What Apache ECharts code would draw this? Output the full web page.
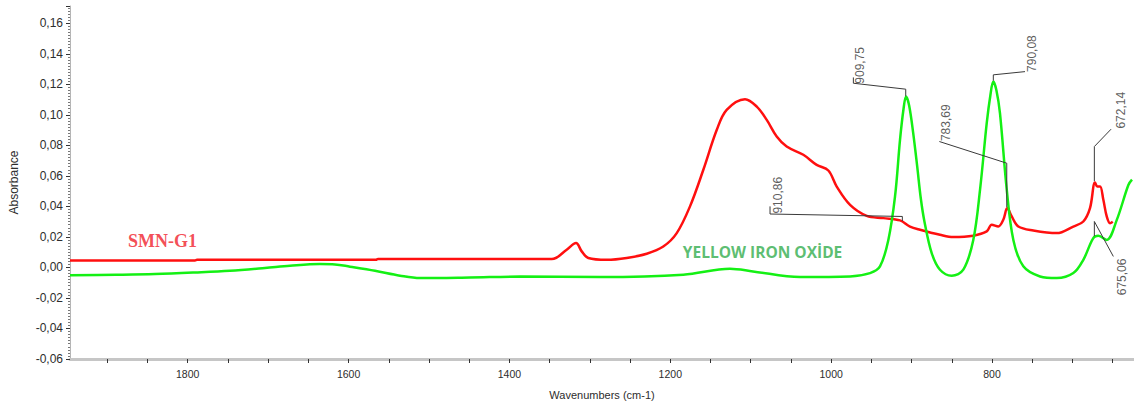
<!DOCTYPE html>
<html>
<head>
<meta charset="utf-8">
<script src="https://cdn.jsdelivr.net/npm/echarts@6/dist/echarts.min.js"></script>
<style>
html,body{margin:0;padding:0;background:#fff;}
#chart{width:1134px;height:405px;}
</style>
</head>
<body>
<div id="chart"></div>
<script>
// ---- data (wavenumber cm-1, absorbance) ----
const redWavenumbers = [1946.3, 1790.9, 1788.4, 1566.0, 1563.4, 1347.4, 1328.8, 1317.2, 1310.1, 1301.9, 1279.1, 1254.2, 1229.3, 1208.7, 1192.0, 1175.5, 1158.9, 1142.3, 1129.9, 1107.1, 1092.5, 1080.1, 1067.7, 1055.3, 1034.6, 1018.0, 1003.5, 993.1, 976.5, 955.8, 935.1, 914.4, 902.0, 889.5, 864.7, 848.1, 823.3, 806.6, 800.4, 792.2, 786.0, 781.0, 775.5, 767.3, 748.7, 719.6, 698.9, 686.5, 678.2, 672.0, 669.1, 665.7, 661.6, 657.4, 653.3, 649.9];
const redAbsorbance = [0.0046, 0.0046, 0.005, 0.005, 0.0055, 0.0055, 0.0116, 0.016, 0.0105, 0.0062, 0.005, 0.0062, 0.009, 0.0137, 0.0225, 0.040, 0.064, 0.090, 0.1032, 0.1102, 0.1054, 0.0967, 0.0858, 0.0792, 0.0738, 0.0672, 0.0635, 0.053, 0.041, 0.0338, 0.0323, 0.0308, 0.0268, 0.0247, 0.0214, 0.0199, 0.0208, 0.0236, 0.028, 0.0268, 0.0312, 0.0389, 0.0334, 0.0268, 0.0242, 0.0225, 0.0268, 0.0301, 0.0389, 0.0556, 0.053, 0.053, 0.0443, 0.0334, 0.029, 0.030];

const greenWavenumbers = [1946.3, 1889.1, 1840.6, 1790.9, 1747.4, 1703.9, 1672.8, 1635.5, 1616.9, 1598.2, 1567.1, 1536.0, 1511.2, 1449.0, 1386.8, 1287.4, 1183.8, 1125.8, 1097.2, 1038.7, 976.5, 951.7, 939.3, 928.9, 920.6, 914.4, 910.0, 906.9, 903.0, 898.0, 893.0, 888.5, 884.0, 875.0, 864.7, 850.1, 835.7, 823.3, 814.9, 806.6, 802.0, 798.4, 794.5, 790.1, 781.7, 773.5, 761.1, 740.3, 719.6, 698.9, 686.5, 674.1, 667.8, 657.4, 645.0, 630.5, 626.0];
const greenAbsorbance = [-0.0052, -0.0048, -0.0043, -0.0033, -0.0022, -0.0004, 0.0011, 0.0022, 0.0020, 0.0005, -0.0022, -0.0054, -0.007, -0.0066, -0.006, -0.0063, -0.0048, -0.0009, -0.0026, -0.0063, -0.0059, -0.0037, 0.0007, 0.018, 0.0465, 0.0836, 0.104, 0.112, 0.106, 0.088, 0.066, 0.045, 0.030, 0.0094, -0.0015, -0.0054, -0.0015, 0.018, 0.051, 0.0945, 0.113, 0.1218, 0.116, 0.101, 0.051, 0.018, 0.0007, -0.0059, -0.007, -0.0037, 0.005, 0.0192, 0.0207, 0.018, 0.031, 0.054, 0.0575];

// ---- axis ticks and labels ----
const xLabelValues = [800, 1000, 1200, 1400, 1600, 1800];
const xTickValues = [650, 700, 750, 800, 850, 900, 950, 1000, 1050, 1100, 1150, 1200, 1250, 1300, 1350, 1400, 1450, 1500, 1550, 1600, 1650, 1700, 1750, 1800, 1850, 1900];
const xRange = [623.5, 1946.3];
const yRange = [-0.06, 0.1713];
const yStep = 0.02;

// ---- series names / text labels ----
const seriesNames = ['SMN-G1', 'YELLOW IRON OXİDE'];
const seriesLabelAnchors = [[1831.4, 0.0175], [1085.3, 0.0100]];

// ---- peak annotations (leader lines in data units) ----
const peakTexts = ['909,75', '790,08', '783,69', '910,86', '672,14', '675,06'];
const peakLeaders = [
  [[972.4, 0.1245], [972.4, 0.1207], [907.3, 0.1168], [907.3, 0.1122]],
  [[798.4, 0.1224], [798.4, 0.1262], [759.0, 0.1283]],
  [[781.7, 0.0395], [781.7, 0.0683], [865.5, 0.0825]],
  [[1076.0, 0.0400], [1076.0, 0.0350], [911.5, 0.0334], [911.5, 0.0304]],
  [[672.8, 0.0565], [672.8, 0.0792], [652.0, 0.0906]],
  [[672.8, 0.0205], [672.8, 0.0301], [649.2, 0.0072]]
];
const peakTextAnchors = [[972.0, 0.1204], [757.6, 0.1281], [865.0, 0.0828], [1074.0, 0.0353], [646.8, 0.0910], [645.6, 0.0058]];
const peakTextUpward = [true, true, true, true, true, false];

const pairs = (xs, ys) => xs.map((x, i) => [x, ys[i]]);
const fmt = v => v.toFixed(2).replace('.', ',');
const AX = '#2d2d2d';

const series = [
  {
    name: seriesNames[0], type: 'line', data: pairs(redWavenumbers, redAbsorbance),
    showSymbol: false, smooth: 0.35,
    lineStyle: { color: '#ff0f0f', width: 2.5 }, z: 3
  },
  {
    name: seriesNames[1], type: 'line', data: pairs(greenWavenumbers, greenAbsorbance),
    showSymbol: false, smooth: 0.35,
    lineStyle: { color: '#14f014', width: 2.5 }, z: 4
  }
];

peakLeaders.forEach((pts) => {
  series.push({
    type: 'line', data: pts, showSymbol: false, silent: true,
    lineStyle: { color: '#3a3a3a', width: 1 }, z: 5
  });
});

series.push({
  type: 'scatter', symbolSize: 0, silent: true, z: 6,
  data: peakTextAnchors.map((p, i) => ({
    value: p,
    label: {
      show: true, formatter: peakTexts[i], rotate: 90, position: [0, 0],
      align: peakTextUpward[i] ? 'left' : 'right', verticalAlign: 'top',
      fontFamily: 'Liberation Sans', fontSize: 12, color: '#333'
    }
  }))
});

series.push({
  type: 'scatter', symbolSize: 0, silent: true, z: 6,
  data: [
    { value: seriesLabelAnchors[0], label: { show: true, formatter: seriesNames[0], position: [0, 0], align: 'center', verticalAlign: 'middle', fontFamily: 'Liberation Serif', fontWeight: 'bold', fontSize: 18, color: '#f0202a' } },
    { value: seriesLabelAnchors[1], label: { show: true, formatter: seriesNames[1], position: [0, 0], align: 'center', verticalAlign: 'middle', fontFamily: 'Open Sans', fontWeight: 'bold', fontSize: 15.5, color: '#31ad4c' } }
  ]
});

const chart = echarts.init(document.getElementById('chart'), null, { renderer: 'svg' });
chart.setOption({
  animation: false,
  backgroundColor: '#fff',
  grid: { left: 70, right: 0, top: 6, bottom: 46 },
  xAxis: {
    type: 'value', inverse: true, min: xRange[0], max: xRange[1],
    name: 'Wavenumbers (cm-1)', nameLocation: 'middle', nameGap: 30,
    nameTextStyle: { fontFamily: 'Liberation Sans', fontSize: 11, color: AX },
    axisLine: { show: true, onZero: false, lineStyle: { color: '#c6c6c6', width: 3 } },
    axisTick: { show: true, customValues: xTickValues, length: 4, lineStyle: { color: '#333', width: 1 } },
    axisLabel: { customValues: xLabelValues, formatter: v => String(v), fontFamily: 'Liberation Sans', fontSize: 10.5, color: AX, margin: 9 },
    splitLine: { show: false }
  },
  yAxis: {
    type: 'value', min: yRange[0], max: yRange[1], interval: yStep,
    name: 'Absorbance', nameLocation: 'middle', nameGap: 50,
    nameTextStyle: { fontFamily: 'Liberation Sans', fontSize: 12, color: AX },
    axisLine: { show: true, lineStyle: { color: '#b5b5b5', width: 1 } },
    axisTick: { show: true, length: 4, lineStyle: { color: '#333' } },
    minorTick: { show: true, splitNumber: 10, length: 2, lineStyle: { color: '#777' } },
    axisLabel: { formatter: fmt, showMaxLabel: false, fontFamily: 'Liberation Sans', fontSize: 12, color: AX, margin: 7 },
    splitLine: { show: false }
  },
  series: series
});
</script>
</body>
</html>
